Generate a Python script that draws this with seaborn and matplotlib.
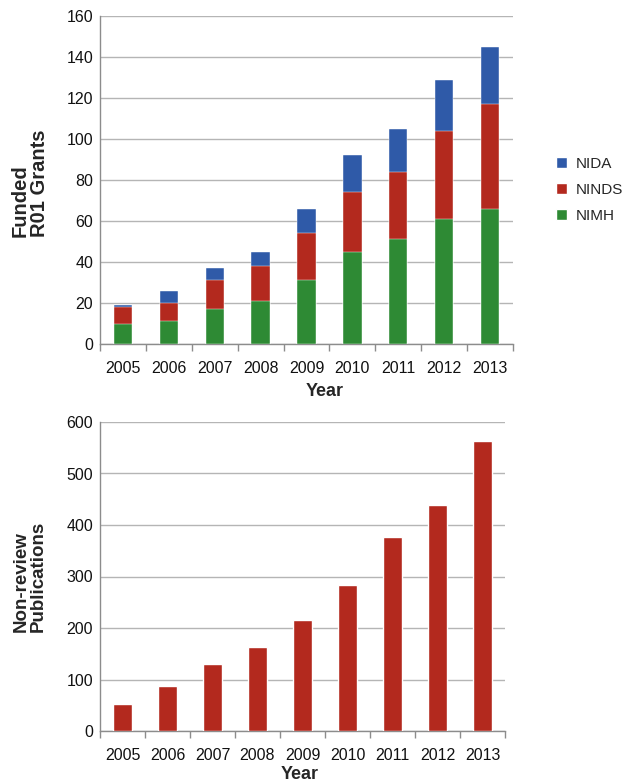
import numpy as np
import pandas as pd
import matplotlib
matplotlib.use("Agg")
import matplotlib.pyplot as plt
import seaborn as sns
from matplotlib.patches import Patch

years = ["2005", "2006", "2007", "2008", "2009", "2010", "2011", "2012", "2013"]
nimh = [10, 11, 17, 21, 31, 45, 51, 61, 66]
ninds = [8, 9, 14, 17, 23, 29, 33, 43, 51]
nida = [1, 6, 6, 7, 12, 18, 21, 25, 28]
pubs = [53, 87, 131, 164, 215, 284, 377, 439, 564]

GREEN = "#2e8a34"
RED = "#b3291e"
BLUE = "#2f5aa8"

sns.set_theme(style="white")
plt.rcParams["font.family"] = ["Liberation Sans", "DejaVu Sans"]

fig = plt.figure(figsize=(6.22, 7.82), dpi=100)
ax1 = fig.add_axes([100/622, 1-344/782, 413/622, 328/782])
ax2 = fig.add_axes([100/622, 1-731/782, 405/622, 309/782])

df = pd.DataFrame({"year": years, "NIMH": nimh, "NINDS": ninds, "NIDA": nida})
df["c_ninds"] = df["NIMH"] + df["NINDS"]
df["c_nida"] = df["c_ninds"] + df["NIDA"]

w = 0.4
sns.barplot(data=df, x="year", y="c_nida", color=BLUE, saturation=1, width=w, ax=ax1, zorder=3)
sns.barplot(data=df, x="year", y="c_ninds", color=RED, saturation=1, width=w, ax=ax1, zorder=3)
sns.barplot(data=df, x="year", y="NIMH", color=GREEN, saturation=1, width=w, ax=ax1, zorder=3)
for p in ax1.patches:
    p.set_edgecolor("#ffffff")
    p.set_linewidth(0.3)

dfp = pd.DataFrame({"year": years, "pubs": pubs})
sns.barplot(data=dfp, x="year", y="pubs", color=RED, saturation=1, width=0.41, ax=ax2, zorder=3)

def style(ax, ymax, step):
    ax.set_xlim(-0.5, len(years) - 0.5)
    ax.set_ylim(0, ymax)
    ax.set_yticks(np.arange(0, ymax + 1, step))
    ax.yaxis.grid(True, color="#b5b5b5", linewidth=1.0, zorder=0)
    ax.xaxis.grid(False)
    for s in ["top", "right"]:
        ax.spines[s].set_visible(False)
    for s in ["left", "bottom"]:
        ax.spines[s].set_visible(True)
        ax.spines[s].set_color("#8c8c8c")
        ax.spines[s].set_linewidth(1.0)
    ax.set_xticks(np.arange(-0.5, len(years)), minor=True)
    ax.tick_params(axis="x", which="minor", length=5, color="#8c8c8c", direction="out", bottom=True)
    ax.tick_params(axis="x", which="major", length=0, pad=12, labelsize=11.5, labelcolor="#111111")
    ax.tick_params(axis="y", which="major", length=0, pad=5, labelsize=11.5, labelcolor="#111111")

style(ax1, 160, 20)
style(ax2, 600, 100)

ax1.set_xlabel("Year", fontsize=13, fontweight="bold")
ax1.xaxis.set_label_coords((325 - 100) / 413, -0.119)
ax1.set_ylabel("Funded\nR01 Grants", fontsize=14.5, fontweight="bold", linespacing=1.05,
               multialignment="left")
ax1.yaxis.set_label_coords(-(100 - 49) / 413, 0.49)

ax2.set_xlabel("Year", fontsize=13, fontweight="bold")
ax2.xaxis.set_label_coords((300 - 100) / 405, -0.113)
ax2.set_ylabel("Non-review\nPublications", fontsize=13.5, fontweight="bold", linespacing=1.0,
               multialignment="left")
ax2.yaxis.set_label_coords(-(100 - 47) / 405, 0.5)

handles = [Patch(facecolor=BLUE, label="NIDA"), Patch(facecolor=RED, label="NINDS"),
           Patch(facecolor=GREEN, label="NIMH")]
fig.legend(handles=handles, loc="center left", bbox_to_anchor=(556/622, 1-190/782),
           frameon=False, fontsize=11, handlelength=0.75, handleheight=0.75,
           handletextpad=0.55, labelspacing=0.8, borderaxespad=0, borderpad=0)

fig.savefig("out.png", dpi=100)
